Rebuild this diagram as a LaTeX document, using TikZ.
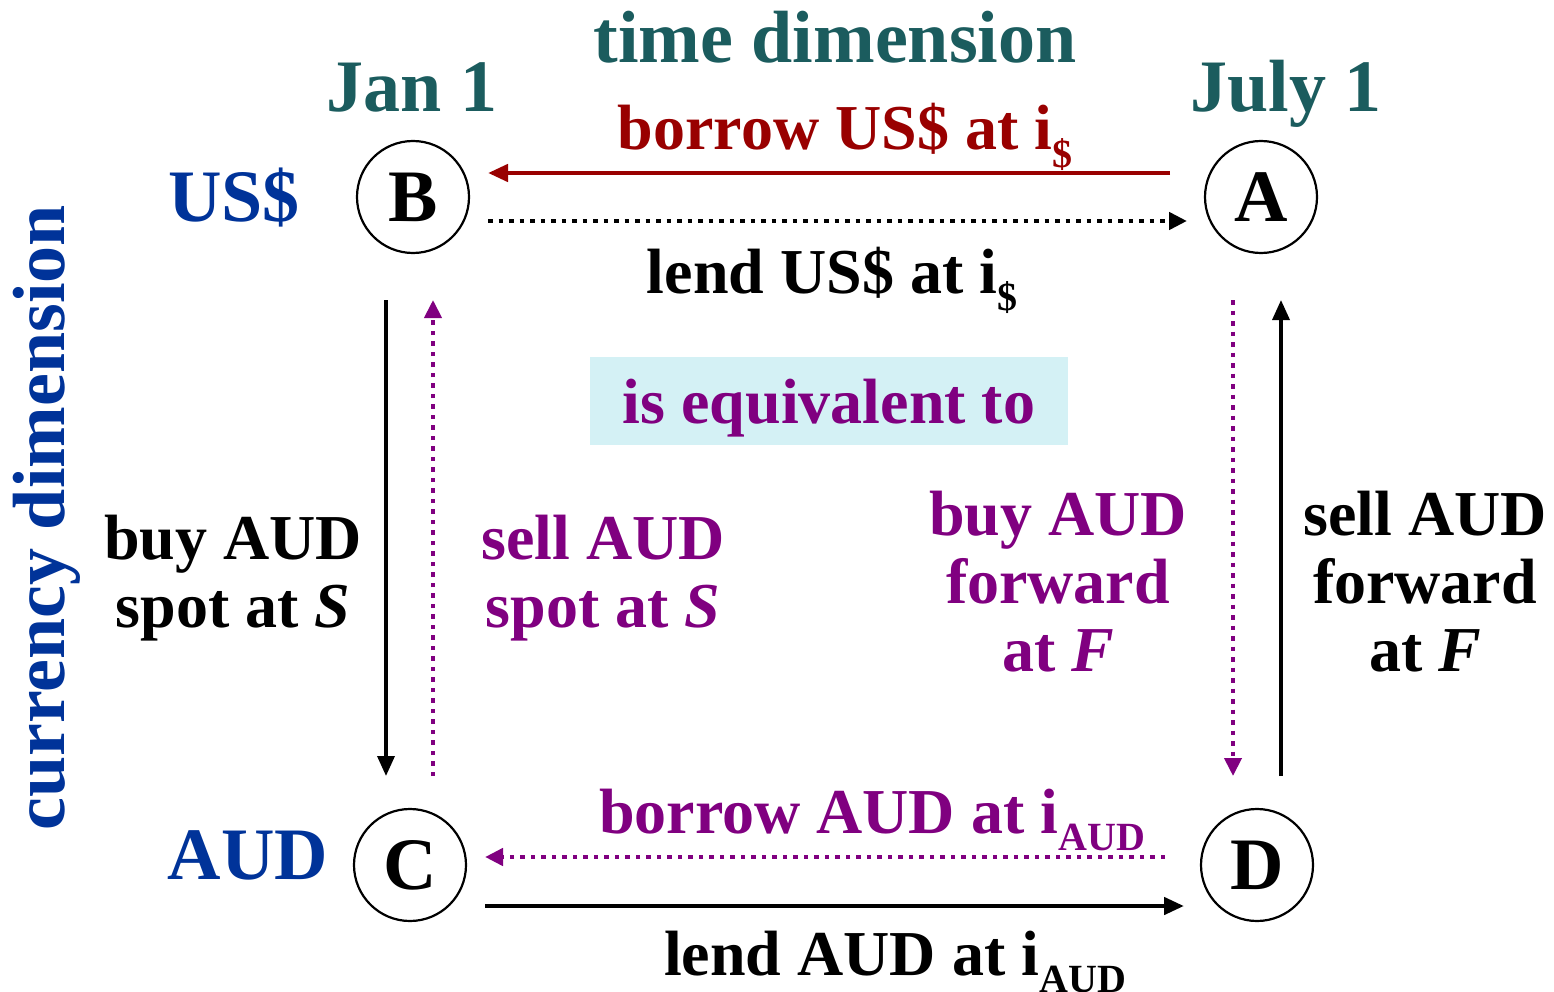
\documentclass[tikz,border=0pt]{standalone}
\usepackage{fontspec}
\setmainfont{Liberation Serif}
\usetikzlibrary{arrows.meta}
\definecolor{tealc}{HTML}{1B5C5E}
\definecolor{bluec}{HTML}{003399}
\definecolor{redc}{HTML}{990000}
\definecolor{purp}{HTML}{800080}
\definecolor{boxc}{HTML}{D4F1F5}
\newcommand{\mysub}[1]{\raisebox{-0.28em}{\fontsize{40}{40}\selectfont #1}}
\tikzset{
  lbl/.style={font=\fontsize{64}{68}\selectfont\bfseries, align=center, inner sep=0pt},
  big/.style={font=\fontsize{74}{80}\selectfont\bfseries, inner sep=0pt},
  circ/.style={draw, circle, line width=2.2pt, minimum size=112pt, inner sep=0pt, font=\fontsize{74}{80}\selectfont\bfseries},
  arr/.style={line width=4.5pt, -{Triangle[length=20pt,width=17pt]}},
  dotl/.style={line width=4.5pt, dash pattern=on 4.5pt off 6pt, -{Triangle[length=18pt,width=17pt]}},
}
\begin{document}
\begin{tikzpicture}[x=1pt,y=-1pt]
\useasboundingbox (0,0) rectangle (1554,992);
% circles
\node[circ] (B) at (413,197) {B};
\node[circ] (A) at (1261,197) {A};
\node[circ] (C) at (410,865) {C};
\node[circ] (D) at (1257,865) {D};
% coordinates for connector ends
\coordinate (r1) at (1170,173); \coordinate (r2) at (488,173);
\coordinate (l1) at (488,221); \coordinate (l2) at (1187,221);
\coordinate (v1a) at (386,300); \coordinate (v1b) at (386,776);
\coordinate (v2a) at (433,776); \coordinate (v2b) at (433,300);
\coordinate (v3a) at (1233,300); \coordinate (v3b) at (1233,776);
\coordinate (v4a) at (1281,776); \coordinate (v4b) at (1281,300);
\coordinate (b1) at (1165,857); \coordinate (b2) at (485,857);
\coordinate (b3) at (485,906); \coordinate (b4) at (1184,906);
% connectors
\draw[arr, redc] (r1) -- (r2);
\draw[dotl, black] (l1) -- (l2);
\draw[arr, line width=3.5pt] (v1a) -- (v1b);
\draw[dotl, purp, line width=4pt] (v2a) -- (v2b);
\draw[dotl, purp, line width=4pt] (v3a) -- (v3b);
\draw[arr, line width=3.5pt] (v4a) -- (v4b);
\draw[dotl, purp] (b1) -- (b2);
\draw[arr] (b3) -- (b4);
% labels
\node[big, tealc, anchor=base] (td) at (835,63) {time dimension};
\node[big, tealc, anchor=base] (jan) at (412,112) {Jan 1};
\node[big, tealc, anchor=base] (jul) at (1286,112) {July 1};
\node[big, bluec, anchor=base] (usd) at (234,222) {US\$};
\node[big, bluec, anchor=base] (aud) at (248,879) {AUD};
\node[big, bluec, rotate=90] (cd) at (47,518) {currency dimension};
\node[lbl, redc, anchor=base] (bu) at (845,150) {borrow US\$ at i\mysub{\$}};
\node[lbl, anchor=base] (lu) at (832,293) {lend US\$ at i\mysub{\$}};
\node[fill=boxc, minimum width=478pt, minimum height=88pt, inner sep=0pt] (eqbox) at (829,401) {};
\node[lbl, purp, anchor=base] (eq) at (829,423) {is equivalent to};
\node[lbl, anchor=base] (bs) at (233,627) {buy AUD\\spot at \textit{S}};
\node[lbl, purp, anchor=base] (ss) at (603,627) {sell AUD\\spot at \textit{S}};
\node[lbl, purp, anchor=base] (bf) at (1058,671) {buy AUD\\forward\\at \textit{F}};
\node[lbl, anchor=base] (sf) at (1425,671) {sell AUD\\forward\\at \textit{F}};
\node[lbl, purp, anchor=base] (ba) at (872,833) {borrow AUD at i\mysub{AUD}};
\node[lbl, anchor=base] (la) at (895,975) {lend AUD at i\mysub{AUD}};
\end{tikzpicture}
\end{document}
